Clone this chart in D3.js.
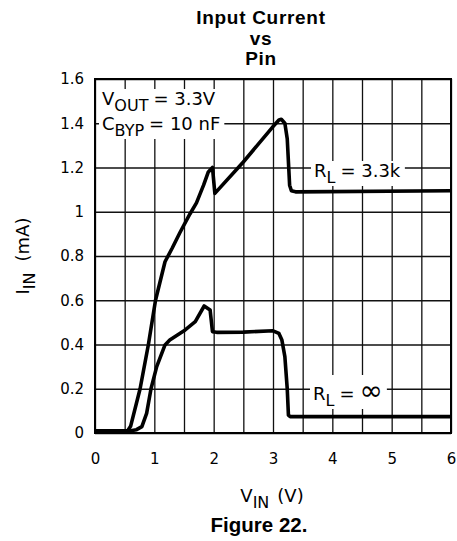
<!DOCTYPE html>
<html>
<head>
<meta charset="utf-8">
<script src="https://cdn.jsdelivr.net/npm/d3@7"></script>
<style>
  body { margin: 0; background: #fff; }
  svg { display: block; }
  .tick text { font-family: "DejaVu Sans", sans-serif; }
</style>
</head>
<body>
<svg width="457" height="541"></svg>
<script>
// curve data (V in volts, I in mA)
const vin33k = [0, 0.55, 0.6, 0.76, 0.9, 1.02, 1.18, 1.3, 1.43, 1.6, 1.71, 1.83, 1.91, 1.98, 2.02, 2.5, 3.0, 3.1, 3.14, 3.2, 3.24, 3.265, 3.28, 3.31, 3.38, 6]
const iin33k = [0.01, 0.01, 0.03, 0.2, 0.4, 0.6, 0.774, 0.835, 0.905, 0.99, 1.04, 1.12, 1.18, 1.2, 1.083, 1.225, 1.385, 1.415, 1.418, 1.40, 1.33, 1.2, 1.12, 1.095, 1.09, 1.095]

const vinInf = [0, 0.6, 0.7, 0.79, 0.87, 0.944, 1.04, 1.18, 1.26, 1.52, 1.69, 1.84, 1.94, 1.98, 2.05, 2.5, 3.0, 3.1, 3.15, 3.2, 3.24, 3.26, 3.29, 4, 6]
const iinInf = [0.01, 0.01, 0.015, 0.029, 0.089, 0.2, 0.3, 0.398, 0.42, 0.466, 0.503, 0.574, 0.556, 0.458, 0.455, 0.456, 0.462, 0.45, 0.42, 0.345, 0.2, 0.081, 0.074, 0.074, 0.074]

const xTicks = [0, 1, 2, 3, 4, 5, 6]
const xTickLabels = ["0", "1", "2", "3", "4", "5", "6"]
const yTicks = [0, 0.2, 0.4, 0.6, 0.8, 1, 1.2, 1.4, 1.6]
const yTickLabels = ["0", "0.2", "0.4", "0.6", "0.8", "1", "1.2", "1.4", "1.6"]
const xGrid = d3.range(0, 6.01, 0.5)
const yGrid = yTicks

const titleLines = ["Input Current", "vs", "Pin"]

const svg = d3.select("svg")
const pLeft = 95, pRight = 451, pTop = 79, pBottom = 433

const x = d3.scaleLinear().domain([0, 6]).range([pLeft, pRight])
const y = d3.scaleLinear().domain([0, 1.6]).range([pBottom, pTop])

// grid
svg.append("g")
  .attr("transform", `translate(0,${pBottom})`)
  .call(d3.axisBottom(x).tickValues(xGrid).tickSize(-(pBottom - pTop)).tickFormat(""))
  .call(g => g.select(".domain").remove())
  .selectAll("line").attr("stroke", "#111").attr("stroke-width", 1.3)

svg.append("g")
  .attr("transform", `translate(${pLeft},0)`)
  .call(d3.axisLeft(y).tickValues(yGrid).tickSize(-(pRight - pLeft)).tickFormat(""))
  .call(g => g.select(".domain").remove())
  .selectAll("line").attr("stroke", "#111").attr("stroke-width", 1.3)

// tick labels
svg.append("g")
  .attr("transform", `translate(0,${pBottom})`)
  .call(d3.axisBottom(x).tickValues(xTicks).tickSize(0).tickPadding(20)
    .tickFormat((d, i) => xTickLabels[i]))
  .call(g => g.select(".domain").remove())
  .selectAll("text").attr("font-size", 15).attr("fill", "#000")

svg.append("g")
  .attr("transform", `translate(${pLeft},0)`)
  .call(d3.axisLeft(y).tickValues(yTicks).tickSize(0).tickPadding(11)
    .tickFormat((d, i) => yTickLabels[i]))
  .call(g => g.select(".domain").remove())
  .selectAll("text").attr("font-size", 15).attr("fill", "#000")

// labels inside the plot, each on a white patch that hides the grid
const notes = svg.append("g")
  .attr("font-family", "DejaVu Sans, sans-serif")
  .attr("font-size", 18)

function note(px, py, main, sub, rest, big) {
  const t = notes.append("text").attr("x", px).attr("y", py)
  t.append("tspan").text(main)
  t.append("tspan").attr("font-size", 16).attr("dy", 6).text(sub)
  t.append("tspan").attr("dy", -6).attr("dx", 5).text(rest)
  if (big) t.append("tspan").attr("font-size", 28).attr("dx", 5).text(big)
  const b = t.node().getBBox()
  notes.insert("rect", "text")
    .attr("x", b.x - 3).attr("y", b.y + 1)
    .attr("width", b.width + 7).attr("height", b.height - 2)
    .attr("fill", "#fff")
  return t
}

note(102, 105, "V", "OUT", "= 3.3V")
note(102, 130, "C", "BYP", "= 10 nF")
note(314, 177, "R", "L", "= 3.3k")
note(313, 400, "R", "L", "=", "\u221e")

// frame
svg.append("rect")
  .attr("x", pLeft).attr("y", pTop)
  .attr("width", pRight - pLeft).attr("height", pBottom - pTop)
  .attr("fill", "none").attr("stroke", "#000").attr("stroke-width", 2)

// curves
const line = d3.line().x(d => x(d[0])).y(d => y(d[1]))

svg.append("path")
  .datum(d3.zip(vin33k, iin33k))
  .attr("d", line)
  .attr("fill", "none").attr("stroke", "#000").attr("stroke-width", 3.6)
  .attr("stroke-linejoin", "round")

svg.append("path")
  .datum(d3.zip(vinInf, iinInf))
  .attr("d", line)
  .attr("fill", "none").attr("stroke", "#000").attr("stroke-width", 3.6)
  .attr("stroke-linejoin", "round")

// axis titles
const yl = svg.append("text")
  .attr("transform", `translate(29,256) rotate(-90)`)
  .attr("text-anchor", "middle")
  .attr("font-family", "DejaVu Sans, sans-serif")
  .attr("font-size", 18)
yl.append("tspan").text("I")
yl.append("tspan").attr("font-size", 16).attr("dy", 6).text("IN")
yl.append("tspan").attr("dy", -6).attr("dx", 11).text("(mA)")

const xl = svg.append("text")
  .attr("x", 272).attr("y", 502)
  .attr("text-anchor", "middle")
  .attr("font-family", "DejaVu Sans, sans-serif")
  .attr("font-size", 18)
xl.append("tspan").text("V")
xl.append("tspan").attr("font-size", 16).attr("dy", 6).text("IN")
xl.append("tspan").attr("dy", -6).attr("dx", 8).text("(V)")

// title and caption
svg.append("g")
  .selectAll("text")
  .data(titleLines)
  .enter()
  .append("text")
  .attr("x", 261)
  .attr("y", (d, i) => 24 + i * 20.5)
  .attr("text-anchor", "middle")
  .attr("font-family", "Liberation Sans, Arial, sans-serif")
  .attr("font-weight", "bold")
  .attr("font-size", 19)
  .attr("letter-spacing", 0.7)
  .text(d => d)

svg.append("text")
  .attr("x", 259).attr("y", 532)
  .attr("text-anchor", "middle")
  .attr("font-family", "Liberation Sans, Arial, sans-serif")
  .attr("font-weight", "bold")
  .attr("font-size", 20.5)
  .text("Figure 22.")
</script>
</body>
</html>
